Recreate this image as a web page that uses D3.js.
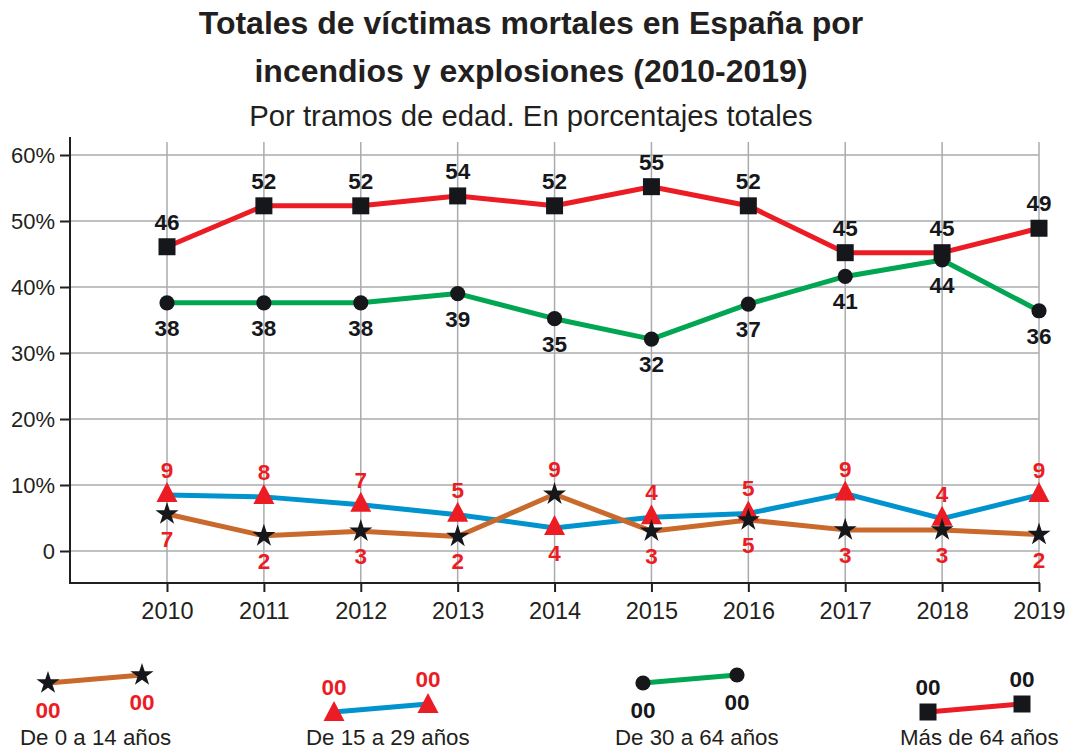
<!DOCTYPE html>
<html>
<head>
<meta charset="utf-8">
<script src="https://cdn.jsdelivr.net/npm/d3@7"></script>
<style>
  body { margin: 0; background: #fff; }
  text { font-family: "Liberation Sans", Arial, sans-serif; }
</style>
</head>
<body>
<script>
// Data (percent of total deaths per age band)
const years = [2010, 2011, 2012, 2013, 2014, 2015, 2016, 2017, 2018, 2019];

const mas64 = [46.1, 52.3, 52.3, 53.8, 52.3, 55.2, 52.3, 45.2, 45.2, 48.9];
const mas64Labels = [46, 52, 52, 54, 52, 55, 52, 45, 45, 49];

const de30a64 = [37.6, 37.6, 37.6, 39.0, 35.2, 32.1, 37.4, 41.6, 44.1, 36.4];
const de30a64Labels = [38, 38, 38, 39, 35, 32, 37, 41, 44, 36];

const de15a29 = [8.5, 8.2, 7.0, 5.5, 3.5, 5.1, 5.7, 8.7, 4.9, 8.5];
const de15a29Labels = [9, 8, 7, 5, 4, 4, 5, 9, 4, 9];

const de0a14 = [5.6, 2.3, 3.0, 2.2, 8.6, 3.0, 4.7, 3.2, 3.2, 2.5];
const de0a14Labels = [7, 2, 3, 2, 9, 3, 5, 3, 3, 2];

const yTicks = [0, 10, 20, 30, 40, 50, 60];
const legendNames = ["De 0 a 14 años", "De 15 a 29 años", "De 30 a 64 años", "Más de 64 años"];

const title1 = "Totales de víctimas mortales en España por";
const title2 = "incendios y explosiones (2010-2019)";
const subtitle = "Por tramos de edad. En porcentajes totales";

// colours
const RED = "#ec1c24", GREEN = "#00a651", BLUE = "#0093cd", BROWN = "#c9692c",
      INK = "#16171b", TXT = "#231f20", GRID = "#a9abae";

const width = 1089, height = 751;

const svg = d3.select("body").append("svg")
    .attr("width", width)
    .attr("height", height);

// scales
const x = d3.scaleLinear().domain([2010, 2019]).range([167, 1039]);
const y = d3.scaleLinear().domain([0, 60]).range([551, 155]);
const axisLeftX = 70, axisBottomY = 583, axisTopY = 137;

// titles
svg.append("text").attr("x", 531).attr("y", 34).attr("text-anchor", "middle")
    .attr("font-size", 32).attr("font-weight", "bold").attr("fill", TXT).text(title1);
svg.append("text").attr("x", 531).attr("y", 82).attr("text-anchor", "middle")
    .attr("font-size", 32).attr("font-weight", "bold").attr("fill", TXT).text(title2);
svg.append("text").attr("x", 531).attr("y", 126).attr("text-anchor", "middle")
    .attr("font-size", 29.3).attr("fill", TXT).text(subtitle);

// grid
const grid = svg.append("g");
grid.selectAll(".hg").data(yTicks).join("line")
    .attr("x1", axisLeftX).attr("x2", x(2019))
    .attr("y1", d => y(d)).attr("y2", d => y(d))
    .attr("stroke", GRID).attr("stroke-width", 1.5);
grid.selectAll(".vg").data(years).join("line")
    .attr("x1", d => x(d)).attr("x2", d => x(d))
    .attr("y1", 142).attr("y2", axisBottomY)
    .attr("stroke", GRID).attr("stroke-width", 1.5);

// y axis
const yAxis = d3.axisLeft(y).tickValues(yTicks).tickSize(10).tickPadding(5)
    .tickFormat(d => d === 0 ? "0" : d + "%");
const gy = svg.append("g").attr("transform", `translate(${axisLeftX},0)`).call(yAxis);
gy.select(".domain").remove();
gy.selectAll(".tick line").attr("stroke", TXT).attr("stroke-width", 2);
gy.selectAll(".tick text").attr("font-size", 22).attr("fill", TXT)
    .attr("font-family", "Liberation Sans, Arial, sans-serif");
svg.append("line").attr("x1", axisLeftX).attr("x2", axisLeftX)
    .attr("y1", axisTopY).attr("y2", axisBottomY + 1)
    .attr("stroke", TXT).attr("stroke-width", 2);

// x axis
const xAxis = d3.axisBottom(x).tickValues(years).tickSize(9).tickPadding(10).tickFormat(d3.format("d"));
const gx = svg.append("g").attr("transform", `translate(0,${axisBottomY})`).call(xAxis);
gx.select(".domain").remove();
gx.selectAll(".tick line").attr("stroke", TXT).attr("stroke-width", 2);
gx.selectAll(".tick text").attr("font-size", 23.5).attr("fill", TXT)
    .attr("font-family", "Liberation Sans, Arial, sans-serif");
svg.append("line").attr("x1", axisLeftX - 1).attr("x2", x(2019) + 1)
    .attr("y1", axisBottomY).attr("y2", axisBottomY)
    .attr("stroke", TXT).attr("stroke-width", 2);

// marker shapes
const markers = {
  star: d3.symbol(d3.symbolStar, 165)(),
  square: d3.symbol(d3.symbolSquare, 289)(),
  circle: d3.symbol(d3.symbolCircle, Math.PI * 7.6 * 7.6)(),
  triangle: "M0,-13L10.5,7L-10.5,7Z"
};

const series = [
  { values: de15a29, labels: de15a29Labels, color: BLUE, marker: "triangle", mfill: RED, lfill: RED, pair: de0a14 },
  { values: de0a14, labels: de0a14Labels, color: BROWN, marker: "star", mfill: INK, lfill: RED, pair: de15a29 },
  { values: de30a64, labels: de30a64Labels, color: GREEN, marker: "circle", mfill: INK, lfill: INK, pair: mas64 },
  { values: mas64, labels: mas64Labels, color: RED, marker: "square", mfill: INK, lfill: INK, pair: de30a64 }
];

const line = d3.line().x((d, i) => x(years[i])).y(d => y(d));

// lines first
svg.append("g").selectAll("path").data(series).join("path")
    .attr("d", s => line(s.values))
    .attr("fill", "none")
    .attr("stroke", s => s.color)
    .attr("stroke-width", 5)
    .attr("stroke-linejoin", "round");

// markers
series.forEach(s => {
  svg.append("g").selectAll("path").data(s.values).join("path")
      .attr("d", markers[s.marker])
      .attr("transform", (d, i) => `translate(${x(years[i])},${y(d)})`)
      .attr("fill", s.mfill);
});

// value labels: the higher of each pair goes above, the lower below
series.forEach(s => {
  svg.append("g").selectAll("text").data(s.values).join("text")
      .attr("x", (d, i) => x(years[i]))
      .attr("y", (d, i) => d >= s.pair[i] ? y(d) - 17 : y(d) + 33)
      .attr("text-anchor", "middle")
      .attr("font-size", 22.5)
      .attr("font-weight", "bold")
      .attr("fill", s.lfill)
      .text((d, i) => s.labels[i]);
});

// legend
const legendX = [48, 334, 643, 928];
const legendSeries = [series[1], series[0], series[2], series[3]];
const legendBelow = [true, false, true, false];
legendSeries.forEach((s, k) => {
  const below = legendBelow[k];
  const y0 = below ? 683 : 712;
  const pts = [[0, 0], [94, -8]];
  const g = svg.append("g").attr("transform", `translate(${legendX[k]},${y0})`);
  g.append("path")
      .attr("d", d3.line()(pts))
      .attr("stroke", s.color).attr("stroke-width", 5).attr("fill", "none");
  g.selectAll("path.m").data(pts).join("path").attr("class", "m")
      .attr("d", markers[s.marker])
      .attr("transform", d => `translate(${d[0]},${d[1] + (s.marker === "triangle" ? 2 : 0)})`)
      .attr("fill", s.mfill);
  g.selectAll("text.l").data(pts).join("text").attr("class", "l")
      .attr("x", d => d[0])
      .attr("y", d => below ? d[1] + 35 : d[1] - 17)
      .attr("text-anchor", "middle")
      .attr("font-size", 22.5).attr("font-weight", "bold")
      .attr("fill", s.lfill)
      .text("00");
  g.append("text")
      .attr("x", -28).attr("y", 745 - y0)
      .attr("font-size", 22.3).attr("fill", TXT)
      .text(legendNames[k]);
});
</script>
</body>
</html>
